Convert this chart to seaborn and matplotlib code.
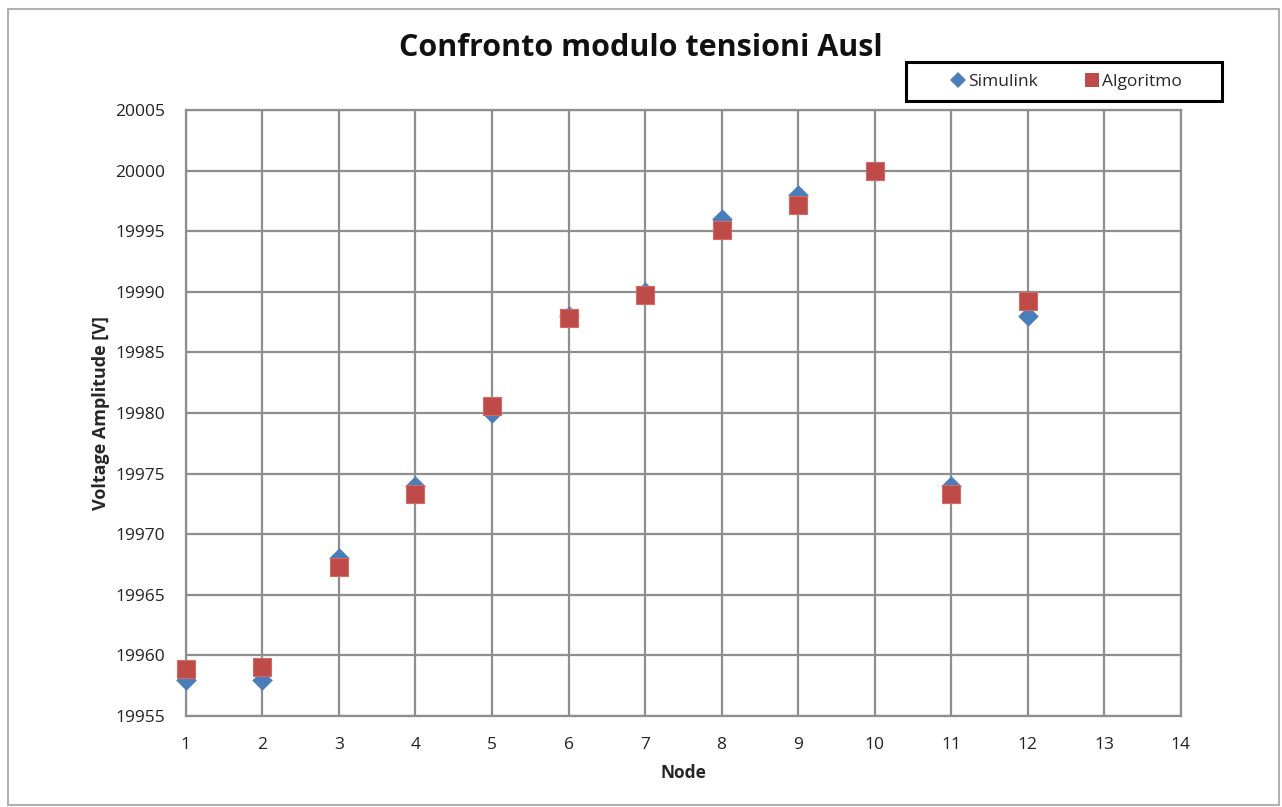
import matplotlib
matplotlib.use("Agg")
import matplotlib.pyplot as plt
from matplotlib.patches import Rectangle
import seaborn as sns
import pandas as pd

nodes = [1, 2, 3, 4, 5, 6, 7, 8, 9, 10, 11, 12]
simulink = [19958.0, 19958.0, 19968.0, 19974.0, 19980.0, 19988.0,
            19990.0, 19996.0, 19998.0, 20000.0, 19974.0, 19988.0]
algoritmo = [19958.9, 19959.0, 19967.3, 19973.3, 19980.6, 19987.8,
             19989.7, 19995.1, 19997.2, 20000.0, 19973.3, 19989.2]
x_ticks = list(range(1, 15))
y_ticks = list(range(19955, 20006, 5))

df = pd.DataFrame({
    "Node": nodes * 2,
    "Voltage": simulink + algoritmo,
    "Serie": ["Simulink"] * len(nodes) + ["Algoritmo"] * len(nodes),
})

sns.set_style("white")
plt.rcParams["font.family"] = ["Open Sans", "DejaVu Sans"]

fig = plt.figure(figsize=(12.82, 8.07), dpi=100)
fig.patch.set_facecolor("white")
ax = fig.add_axes([0.145, 0.1128, 0.776, 0.7509])

grid_col = "#8e8e8e"
ax.set_xlim(1, 14)
ax.set_ylim(19955, 20005)
ax.set_xticks(x_ticks)
ax.set_yticks(y_ticks)
ax.grid(True, color=grid_col, linewidth=1.6)
ax.set_axisbelow(True)
for side, sp in ax.spines.items():
    sp.set_color(grid_col)
    sp.set_linewidth(1.6)
ax.tick_params(axis="both", which="both", length=6, width=1.6, color=grid_col,
               labelsize=12.5, labelcolor="#222222", direction="out", pad=9)

colors = {"Simulink": "#4a7ebb", "Algoritmo": "#be4b48"}

sns.scatterplot(data=df[df["Serie"] == "Simulink"], x="Node", y="Voltage",
                color=colors["Simulink"], marker="D", s=110, linewidth=0,
                ax=ax, clip_on=False, zorder=3)
sns.scatterplot(data=df[df["Serie"] == "Algoritmo"], x="Node", y="Voltage",
                color=colors["Algoritmo"], marker="s", s=150,
                edgecolor="#d36a66", linewidth=0.8,
                ax=ax, clip_on=False, zorder=4)

ax.set_xlabel("Node", fontsize=12.5, fontweight="bold", labelpad=8)
ax.set_ylabel("Voltage Amplitude [V]", fontsize=13, fontweight="bold", labelpad=4)

fig.text(0.5, 0.941, "Confronto modulo tensioni Ausl", ha="center", va="center",
         fontsize=22, fontweight="bold", color="#111111")

# legend entries above the top-right corner of the plot, inside a black box
handles = [
    plt.Line2D([], [], linestyle="none", marker="D", markersize=8,
               color=colors["Simulink"], markeredgewidth=0),
    plt.Line2D([], [], linestyle="none", marker="s", markersize=10,
               color=colors["Algoritmo"], markeredgewidth=0),
]
fig.legend(handles, ["Simulink", "Algoritmo"], ncol=2,
           loc="center", bbox_to_anchor=(0.831, 0.8985),
           frameon=False, fontsize=12.5,
           handletextpad=0.1, columnspacing=2.6, borderpad=0.3,
           borderaxespad=0, handlelength=1.0)
fig.add_artist(Rectangle((0.7067, 0.8748), 0.2465, 0.0483, transform=fig.transFigure,
                         fill=False, edgecolor="black", linewidth=2.2))

# outer chart border
fig.add_artist(Rectangle((0.006, 0.002), 0.992, 0.987, transform=fig.transFigure,
                         fill=False, edgecolor="#b0b0b0", linewidth=1.5))

fig.savefig("out.png", dpi=100)
